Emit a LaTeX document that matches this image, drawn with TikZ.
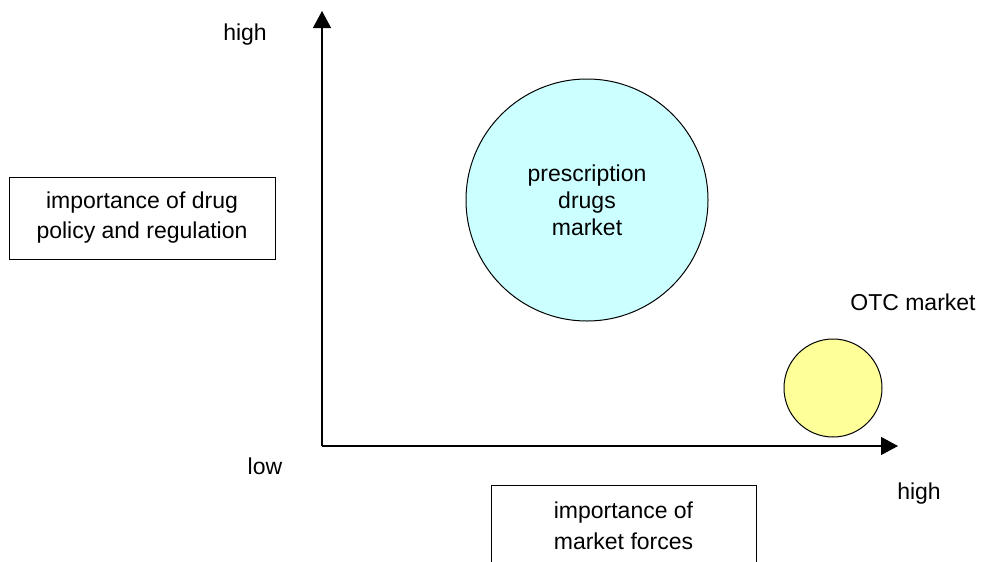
\documentclass[tikz,border=0pt]{standalone}
\usepackage{fontspec}
\setmainfont{Liberation Sans}
\usetikzlibrary{arrows.meta}

\definecolor{rxcyan}{HTML}{CCFFFF}
\definecolor{otcyellow}{HTML}{FFFF99}

\tikzset{
    lbl/.style={anchor=base, inner sep=0pt, font=\fontsize{23}{30}\selectfont},
    labelbox/.style={draw, line width=1pt, align=center, inner sep=0pt, minimum height=82pt},
    market/.style={circle, draw, line width=1pt, inner sep=0pt, align=center},
    axis/.style={line width=1.3pt, -{Triangle[length=17pt, width=18pt]}}
}

\begin{document}
\begin{tikzpicture}[x=1pt, y=-1pt]
        \useasboundingbox (0, 0) rectangle (983, 562);

        \coordinate (origin) at (322, 446);
        \coordinate (ytop) at (322, 11);
        \coordinate (xend) at (898, 446);

        \node[market, fill=rxcyan, minimum size=242pt, font=\fontsize{23}{27}\selectfont] (rx) at (587, 200) {prescription\\drugs\\market};
        \node[market, fill=otcyellow, minimum size=98pt] (otc) at (833, 388) {};
        \node[lbl] (otclbl) at (913, 310) {OTC market};

        \node[labelbox, minimum width=266pt, font=\fontsize{23}{30}\selectfont] (policy) at (142, 218) {importance of drug\\policy and regulation};
        \node[labelbox, minimum width=265pt, font=\fontsize{23}{31}\selectfont] (forces) at (623.5, 526) {importance of\\market forces};

        \node[lbl] (yhigh) at (245, 40) {high};
        \node[lbl] (low) at (265, 474) {low};
        \node[lbl] (xhigh) at (919, 499) {high};

        \draw[axis] (origin) -- (ytop);
        \draw[axis] (origin) -- (xend);
    \end{tikzpicture}
\end{document}
